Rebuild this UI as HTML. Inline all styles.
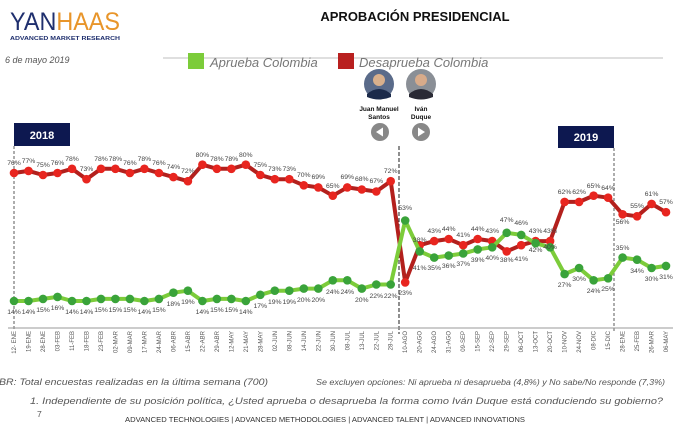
<!DOCTYPE html>
<html><head><meta charset="utf-8"><style>
html,body{margin:0;padding:0;background:#fff;}
svg{display:block;font-family:"Liberation Sans",sans-serif;}
</style></head><body>
<svg width="700" height="428" viewBox="0 0 700 428" xmlns="http://www.w3.org/2000/svg">
<defs>
<marker id="mr" markerUnits="userSpaceOnUse" markerWidth="12" markerHeight="12" refX="6" refY="6"><circle cx="6" cy="6" r="4.3" fill="#e8251f"/></marker>
<marker id="mg" markerUnits="userSpaceOnUse" markerWidth="12" markerHeight="12" refX="6" refY="6"><circle cx="6" cy="6" r="4.3" fill="#3aa33a"/></marker>
</defs>
<!-- logo -->
<text x="10" y="30" font-size="25" textLength="110" lengthAdjust="spacingAndGlyphs"><tspan fill="#1f2f6e">YAN</tspan><tspan fill="#e8952a">HAAS</tspan></text>
<text x="10" y="40" font-size="5.3" font-weight="bold" fill="#1f2f6e" textLength="110" lengthAdjust="spacingAndGlyphs">ADVANCED MARKET RESEARCH</text>
<text x="5" y="63" font-size="9" font-style="italic" fill="#555">6 de mayo 2019</text>
<text x="415" y="21" font-size="13" font-weight="bold" fill="#111" text-anchor="middle">APROBACIÓN PRESIDENCIAL</text>
<line x1="163" y1="58" x2="663" y2="58" stroke="#ccc" stroke-width="1.2"/>
<!-- legend -->
<rect x="188" y="53" width="16" height="16" fill="#7ccc3a"/>
<text x="210" y="67" font-size="13" font-style="italic" fill="#777">Aprueba Colombia</text>
<rect x="338" y="53" width="16" height="16" fill="#b9201f"/>
<text x="359" y="67" font-size="13" font-style="italic" fill="#777">Desaprueba Colombia</text>
<!-- photos -->
<circle cx="379" cy="84" r="15" fill="#5a6b8a"/><circle cx="379" cy="80" r="6" fill="#d9b08c"/><path d="M367,94 Q379,84 391,94 L391,97 Q379,102 367,97Z" fill="#1b2a4a"/>
<circle cx="421" cy="84" r="15" fill="#8a8f96"/><circle cx="421" cy="80" r="6" fill="#d8ab8a"/><path d="M409,94 Q421,84 433,94 L433,97 Q421,102 409,97Z" fill="#2a2a35"/>
<text x="379" y="111" font-size="6.5" font-weight="bold" text-anchor="middle" fill="#111">Juan Manuel</text>
<text x="379" y="119" font-size="6.5" font-weight="bold" text-anchor="middle" fill="#111">Santos</text>
<text x="421" y="111" font-size="6.5" font-weight="bold" text-anchor="middle" fill="#111">Iván</text>
<text x="421" y="119" font-size="6.5" font-weight="bold" text-anchor="middle" fill="#111">Duque</text>
<circle cx="380" cy="132" r="9" fill="#888"/><path d="M376,132 L383,127.5 L383,136.5Z" fill="#fff"/>
<circle cx="421" cy="132" r="9" fill="#888"/><path d="M425,132 L418,127.5 L418,136.5Z" fill="#fff"/>
<!-- year boxes -->
<rect x="14" y="123" width="56" height="23" fill="#0d1850"/>
<text x="42" y="139" font-size="11" font-weight="bold" fill="#fff" text-anchor="middle">2018</text>
<rect x="558" y="126" width="56" height="22" fill="#0d1850"/>
<text x="586" y="141" font-size="11" font-weight="bold" fill="#fff" text-anchor="middle">2019</text>
<line x1="14" y1="146" x2="14" y2="330" stroke="#333" stroke-dasharray="3,2" stroke-width="0.8"/>
<line x1="399" y1="146" x2="399" y2="334" stroke="#333" stroke-dasharray="4,2" stroke-width="1.1"/>
<line x1="614" y1="148" x2="614" y2="332" stroke="#333" stroke-dasharray="3,2" stroke-width="0.8"/>
<!-- axis -->
<line x1="8" y1="328" x2="673" y2="328" stroke="#999" stroke-width="1"/>
<!-- series -->
<polyline fill="none" stroke="#b3201d" stroke-width="4" stroke-linejoin="round" marker-start="url(#mr)" marker-mid="url(#mr)" marker-end="url(#mr)" points="14,173 28.5,170.9 43,175 57.5,173 72,168.8 86.5,179.2 101,168.8 115.4,168.8 129.9,173 144.4,168.8 158.9,173 173.4,177.1 187.9,181.2 202.4,164.7 216.9,168.8 231.4,168.8 245.8,164.7 260.3,175 274.8,179.2 289.3,179.2 303.8,185.3 318.3,187.4 332.8,195.7 347.3,187.4 361.8,189.5 376.3,191.5 390.7,181.2 405.2,282.4 419.7,245.2 434.2,241.1 448.7,239 463.2,245.2 477.7,239 492.2,241.1 506.7,251.4 521.2,245.2 535.6,241.1 550.1,241.1 564.6,201.9 579.1,201.9 593.6,195.7 608.1,197.7 622.6,214.3 637.1,216.3 651.6,203.9 666,212.2"/>
<polyline fill="none" stroke="#7ccc3a" stroke-width="4" stroke-linejoin="round" marker-start="url(#mg)" marker-mid="url(#mg)" marker-end="url(#mg)" points="14,301 28.5,301 43,298.9 57.5,296.9 72,301 86.5,301 101,298.9 115.4,298.9 129.9,298.9 144.4,301 158.9,298.9 173.4,292.7 187.9,290.7 202.4,301 216.9,298.9 231.4,298.9 245.8,301 260.3,294.8 274.8,290.7 289.3,290.7 303.8,288.6 318.3,288.6 332.8,280.3 347.3,280.3 361.8,288.6 376.3,284.5 390.7,284.5 405.2,220.5 419.7,251.4 434.2,257.6 448.7,255.6 463.2,253.5 477.7,249.4 492.2,247.3 506.7,232.8 521.2,234.9 535.6,243.2 550.1,247.3 564.6,274.1 579.1,268 593.6,280.3 608.1,278.3 622.6,257.6 637.1,259.7 651.6,268 666,265.9"/>
<g font-size="6.8" fill="#444" text-anchor="middle">
<text x="14" y="165">76%</text><text x="28.5" y="163">77%</text><text x="43" y="167">75%</text><text x="57.5" y="165">76%</text><text x="72" y="161">78%</text><text x="86.5" y="171">73%</text><text x="101" y="161">78%</text><text x="115.4" y="161">78%</text><text x="129.9" y="165">76%</text><text x="144.4" y="161">78%</text><text x="158.9" y="165">76%</text><text x="173.4" y="169">74%</text><text x="187.9" y="173">72%</text><text x="202.4" y="157">80%</text><text x="216.9" y="161">78%</text><text x="231.4" y="161">78%</text><text x="245.8" y="157">80%</text><text x="260.3" y="167">75%</text><text x="274.8" y="171">73%</text><text x="289.3" y="171">73%</text><text x="303.8" y="177">70%</text><text x="318.3" y="179">69%</text><text x="332.8" y="188">65%</text><text x="347.3" y="179">69%</text><text x="361.8" y="181">68%</text><text x="376.3" y="183">67%</text><text x="390.7" y="173">72%</text>
<text x="405.2" y="295">23%</text><text x="419.7" y="270">41%</text><text x="434.2" y="233">43%</text><text x="448.7" y="231">44%</text><text x="463.2" y="237">41%</text><text x="477.7" y="231">44%</text><text x="492.2" y="233">43%</text><text x="506.7" y="262">38%</text><text x="521.2" y="261">41%</text><text x="535.6" y="233">43%</text><text x="550.1" y="233">43%</text><text x="564.6" y="194">62%</text><text x="579.1" y="194">62%</text><text x="593.6" y="188">65%</text><text x="608.1" y="190">64%</text><text x="622.6" y="224">56%</text><text x="637.1" y="208">55%</text><text x="651.6" y="196">61%</text><text x="666" y="204">57%</text>
<text x="14" y="314">14%</text><text x="28.5" y="314">14%</text><text x="43" y="312">15%</text><text x="57.5" y="310">16%</text><text x="72" y="314">14%</text><text x="86.5" y="314">14%</text><text x="101" y="312">15%</text><text x="115.4" y="312">15%</text><text x="129.9" y="312">15%</text><text x="144.4" y="314">14%</text><text x="158.9" y="312">15%</text><text x="173.4" y="306">18%</text><text x="187.9" y="304">19%</text><text x="202.4" y="314">14%</text><text x="216.9" y="312">15%</text><text x="231.4" y="312">15%</text><text x="245.8" y="314">14%</text><text x="260.3" y="308">17%</text><text x="274.8" y="304">19%</text><text x="289.3" y="304">19%</text><text x="303.8" y="302">20%</text><text x="318.3" y="302">20%</text><text x="332.8" y="294">24%</text><text x="347.3" y="294">24%</text><text x="361.8" y="302">20%</text><text x="376.3" y="298">22%</text><text x="390.7" y="298">22%</text>
<text x="405.2" y="210">53%</text><text x="419.7" y="242">38%</text><text x="434.2" y="270">35%</text><text x="448.7" y="268">36%</text><text x="463.2" y="266">37%</text><text x="477.7" y="262">39%</text><text x="492.2" y="260">40%</text><text x="506.7" y="222">47%</text><text x="521.2" y="225">46%</text><text x="535.6" y="252">42%</text><text x="550.1" y="249">40%</text><text x="564.6" y="287">27%</text><text x="579.1" y="281">30%</text><text x="593.6" y="293">24%</text><text x="608.1" y="291">25%</text><text x="622.6" y="250">35%</text><text x="637.1" y="273">34%</text><text x="651.6" y="281">30%</text><text x="666" y="279">31%</text>
</g>
<g font-size="6" fill="#555" text-anchor="end">
<text transform="translate(16,331) rotate(-90)">12- ENE</text><text transform="translate(30.5,331) rotate(-90)">19-ENE</text><text transform="translate(45,331) rotate(-90)">28-ENE</text><text transform="translate(59.5,331) rotate(-90)">03-FEB</text><text transform="translate(74,331) rotate(-90)">11-FEB</text><text transform="translate(88.5,331) rotate(-90)">18-FEB</text><text transform="translate(103,331) rotate(-90)">23-FEB</text><text transform="translate(117.4,331) rotate(-90)">02-MAR</text><text transform="translate(131.9,331) rotate(-90)">09-MAR</text><text transform="translate(146.4,331) rotate(-90)">17-MAR</text><text transform="translate(160.9,331) rotate(-90)">24-MAR</text><text transform="translate(175.4,331) rotate(-90)">06-ABR</text><text transform="translate(189.9,331) rotate(-90)">15-ABR</text><text transform="translate(204.4,331) rotate(-90)">22-ABR</text><text transform="translate(218.9,331) rotate(-90)">29-ABR</text><text transform="translate(233.4,331) rotate(-90)">12-MAY</text><text transform="translate(247.8,331) rotate(-90)">21-MAY</text><text transform="translate(262.3,331) rotate(-90)">28-MAY</text><text transform="translate(276.8,331) rotate(-90)">02-JUN</text><text transform="translate(291.3,331) rotate(-90)">08-JUN</text><text transform="translate(305.8,331) rotate(-90)">14-JUN</text><text transform="translate(320.3,331) rotate(-90)">22-JUN</text><text transform="translate(334.8,331) rotate(-90)">30-JUN</text><text transform="translate(349.3,331) rotate(-90)">08-JUL</text><text transform="translate(363.8,331) rotate(-90)">13-JUL</text><text transform="translate(378.3,331) rotate(-90)">22-JUL</text><text transform="translate(392.7,331) rotate(-90)">28-JUL</text><text transform="translate(407.2,331) rotate(-90)">10-AGO</text><text transform="translate(421.7,331) rotate(-90)">20-AGO</text><text transform="translate(436.2,331) rotate(-90)">24-AGO</text><text transform="translate(450.7,331) rotate(-90)">31-AGO</text><text transform="translate(465.2,331) rotate(-90)">09-SEP</text><text transform="translate(479.7,331) rotate(-90)">15-SEP</text><text transform="translate(494.2,331) rotate(-90)">22-SEP</text><text transform="translate(508.7,331) rotate(-90)">29-SEP</text><text transform="translate(523.2,331) rotate(-90)">06-OCT</text><text transform="translate(537.6,331) rotate(-90)">13-OCT</text><text transform="translate(552.1,331) rotate(-90)">20-OCT</text><text transform="translate(566.6,331) rotate(-90)">10-NOV</text><text transform="translate(581.1,331) rotate(-90)">24-NOV</text><text transform="translate(595.6,331) rotate(-90)">08-DIC</text><text transform="translate(610.1,331) rotate(-90)">15-DIC</text><text transform="translate(624.6,331) rotate(-90)">28-ENE</text><text transform="translate(639.1,331) rotate(-90)">25-FEB</text><text transform="translate(653.6,331) rotate(-90)">26-MAR</text><text transform="translate(668,331) rotate(-90)">06-MAY</text>
</g>
<!-- footer -->
<text x="-1" y="385" font-size="8.8" font-style="italic" fill="#555" textLength="269" lengthAdjust="spacingAndGlyphs">BR: Total encuestas realizadas en la última semana (700)</text>
<text x="316" y="385" font-size="8" font-style="italic" fill="#555" textLength="349" lengthAdjust="spacingAndGlyphs">Se excluyen opciones: Ni aprueba ni desaprueba (4,8%) y No sabe/No responde (7,3%)</text>
<text x="30" y="404" font-size="9" font-style="italic" fill="#555" textLength="633" lengthAdjust="spacingAndGlyphs">1. Independiente de su posición política, ¿Usted aprueba o desaprueba la forma como Iván Duque está conduciendo su gobierno?</text>
<text x="37" y="417" font-size="8.6" fill="#555">7</text>
<text x="125" y="422" font-size="7.2" fill="#333" textLength="400" lengthAdjust="spacingAndGlyphs">ADVANCED TECHNOLOGIES  |  ADVANCED METHODOLOGIES  |  ADVANCED TALENT  |  ADVANCED INNOVATIONS</text>
</svg>
</body></html>
